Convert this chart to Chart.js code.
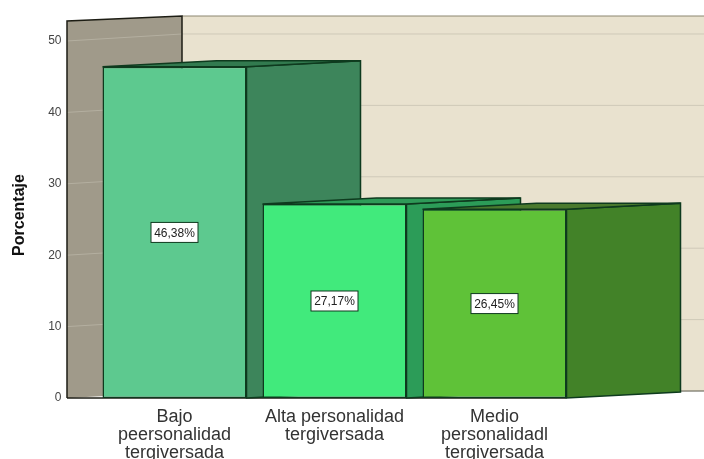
<!DOCTYPE html>
<html>
<head>
<meta charset="utf-8">
<style>
html, body { margin: 0; padding: 0; background: #fff; overflow: hidden; }
canvas { display: block; }
</style>
<script src="https://cdn.jsdelivr.net/npm/chart.js@4"></script>
</head>
<body>
<canvas id="chart" width="704" height="459"></canvas>
<script>
const categories = [
    ['Bajo', 'peersonalidad', 'tergiversada'],
    ['Alta personalidad', 'tergiversada'],
    ['Medio', 'personalidadl', 'tergiversada']
];
const percentages = [46.38, 27.17, 26.45];
const valueLabels = ['46,38%', '27,17%', '26,45%'];
const yTicks = [0, 10, 20, 30, 40, 50];
const yTitle = 'Porcentaje';

const frontColors = ['#5dc98f', '#41ea7c', '#5fc238'];
const sideColors = ['#3d855b', '#2c9c58', '#428228'];
const topColors = ['#327a4f', '#2f9a58', '#4a7a2e'];
const edge = '#0e3a1e';

const depthX = 114;
const depthY = -6;

function polygon(ctx, pts, fill, stroke, lw) {
    ctx.beginPath();
    ctx.moveTo(pts[0][0], pts[0][1]);
    for (let i = 1; i < pts.length; i++) ctx.lineTo(pts[i][0], pts[i][1]);
    ctx.closePath();
    if (fill) { ctx.fillStyle = fill; ctx.fill(); }
    if (stroke) { ctx.strokeStyle = stroke; ctx.lineWidth = lw || 1; ctx.stroke(); }
}

// walls and grid of the fake 3d box, behind the bars
const wallsPlugin = {
    id: 'walls',
    beforeDatasetsDraw(chart) {
        const ctx = chart.ctx;
        const y = chart.scales.y;
        const top = y.getPixelForValue(y.max);
        const bottom = y.getPixelForValue(0);
        const frontX = 67;
        const backX = frontX + 115;
        const w = chart.width;

        ctx.save();
        polygon(ctx, [[backX, top - 5], [w + 2, top - 5], [w + 2, bottom - 7], [backX, bottom - 6]], '#e9e2cf');
        polygon(ctx, [[frontX, top], [backX, top - 5], [backX, bottom - 6], [frontX, bottom]], '#a09a8a');

        yTicks.slice(1).forEach(function (v) {
            const py = y.getPixelForValue(v);
            ctx.strokeStyle = '#b4afa0';
            ctx.lineWidth = 1;
            ctx.beginPath();
            ctx.moveTo(frontX, py);
            ctx.lineTo(backX, py - 7);
            ctx.stroke();
            ctx.strokeStyle = '#cfc9b8';
            ctx.beginPath();
            ctx.moveTo(backX, py - 7);
            ctx.lineTo(w, py - 7);
            ctx.stroke();
        });

        ctx.strokeStyle = '#8c8670';
        ctx.lineWidth = 1;
        ctx.beginPath();
        ctx.moveTo(backX, top - 5);
        ctx.lineTo(w, top - 5);
        ctx.stroke();

        ctx.strokeStyle = '#1d1d14';
        ctx.lineWidth = 1.5;
        ctx.beginPath();
        ctx.moveTo(frontX, bottom);
        ctx.lineTo(frontX, top);
        ctx.lineTo(backX, top - 5);
        ctx.lineTo(backX, bottom - 6);
        ctx.stroke();

        ctx.strokeStyle = '#59584a';
        ctx.lineWidth = 1;
        ctx.beginPath();
        ctx.moveTo(backX, bottom - 6);
        ctx.lineTo(w, bottom - 7);
        ctx.stroke();

        ctx.strokeStyle = '#1d1d14';
        ctx.lineWidth = 1.5;
        ctx.beginPath();
        ctx.moveTo(frontX, bottom);
        ctx.lineTo(chart.getDatasetMeta(0).data[2].x + 72, bottom);
        ctx.stroke();

        // side and top face of each bar
        chart.getDatasetMeta(0).data.forEach(function (bar, i) {
            const l = bar.x - bar.width / 2;
            const r = bar.x + bar.width / 2;
            polygon(ctx, [[r, bar.y], [r + depthX, bar.y + depthY], [r + depthX, bar.base + depthY], [r, bar.base]], sideColors[i], edge, 1.5);
            polygon(ctx, [[l, bar.y], [l + depthX, bar.y + depthY], [r + depthX, bar.y + depthY], [r, bar.y]], topColors[i], edge, 1.5);
        });
        ctx.restore();
    },
    afterDatasetsDraw(chart) {
        const ctx = chart.ctx;
        ctx.save();
        // boxed value labels
        ctx.font = '12px "Liberation Sans", Arial, sans-serif';
        ctx.textAlign = 'center';
        ctx.textBaseline = 'middle';
        chart.getDatasetMeta(0).data.forEach(function (bar, i) {
            const cy = (bar.y + bar.base) / 2;
            ctx.fillStyle = '#fff';
            ctx.strokeStyle = edge;
            ctx.lineWidth = 1;
            ctx.fillRect(bar.x - 23.5, cy - 10, 47, 20);
            ctx.strokeRect(bar.x - 23.5, cy - 10, 47, 20);
            ctx.fillStyle = '#222';
            ctx.fillText(valueLabels[i], bar.x, cy + 1);
        });
        // axis title sits below the axis middle in the original
        ctx.translate(20, 215);
        ctx.rotate(-Math.PI / 2);
        ctx.font = 'bold 16px "Liberation Sans", Arial, sans-serif';
        ctx.fillStyle = '#111';
        ctx.fillText(yTitle, 0, 0);
        ctx.restore();
    }
};

function drawChart() {
    const canvas = document.getElementById('chart').getContext('2d');
    new Chart(canvas, {
        type: 'bar',
        data: {
            labels: categories,
            datasets: [{
                data: percentages,
                backgroundColor: frontColors,
                borderColor: edge,
                borderWidth: 1.5,
                borderSkipped: false,
                barPercentage: 0.9,
                categoryPercentage: 1
            }]
        },
        options: {
            responsive: false,
            animation: false,
            layout: { padding: { top: 21, right: 129.5, left: 0, bottom: 0 } },
            plugins: {
                legend: { display: false },
                tooltip: { enabled: false }
            },
            scales: {
                x: {
                    grid: { display: false },
                    border: { display: false },
                    afterFit: function (axis) { axis.height = 61; },
                    ticks: {
                        maxRotation: 0,
                        autoSkip: false,
                        padding: 2,
                        color: '#333',
                        font: { family: '"Liberation Sans", Arial, sans-serif', size: 18, lineHeight: 1 }
                    }
                },
                y: {
                    min: 0,
                    max: 52.8,
                    grid: { display: false, drawTicks: false },
                    border: { display: false },
                    afterBuildTicks: function (axis) {
                        axis.ticks = yTicks.map(function (v) { return { value: v }; });
                    },
                    afterFit: function (axis) {
                        axis.width = 94.5;
                        // the big tick padding must not push the plot area down
                        axis.paddingTop = 0;
                        axis.paddingBottom = 0;
                    },
                    ticks: {
                        padding: 33,
                        color: '#444',
                        font: { family: '"Liberation Sans", Arial, sans-serif', size: 12 }
                    }
                }
            }
        },
        plugins: [wallsPlugin]
    });
}

drawChart();
</script>
</body>
</html>
